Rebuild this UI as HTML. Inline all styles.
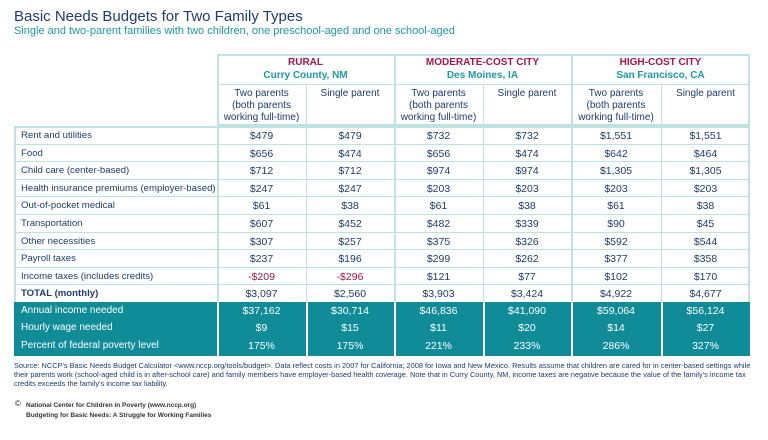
<!DOCTYPE html>
<html><head><style>
body{margin:0;width:768px;height:440px;background:#fff;position:relative;overflow:hidden;font-family:"Liberation Sans",sans-serif}
.a{position:absolute;white-space:nowrap}
.t{color:#1d3d6e;font-size:10px}
.c{text-align:center}
.hl{position:absolute;background:#bfe2e3;height:1px}
.vl{position:absolute;background:#bfe2e3;width:2px}
</style></head><body>
<div class="a" style="left:14px;top:8px;font-size:15px;color:#1d3d6e">Basic Needs Budgets for Two Family Types</div>
<div class="a" style="left:14px;top:25px;font-size:11px;color:#1e98a3">Single and two-parent families with two children, one preschool-aged and one school-aged</div>

<div style="position:absolute;left:217px;top:54px;width:533px;height:72px;border:2px solid #bfe2e3;box-sizing:border-box"></div>
<div class="hl" style="left:217px;top:84px;width:533px"></div>
<div class="vl" style="left:394px;top:54px;height:72px"></div>
<div class="vl" style="left:571px;top:54px;height:72px"></div>
<div class="vl" style="left:306px;top:84px;height:42px;width:1px"></div>
<div class="vl" style="left:483px;top:84px;height:42px;width:1px"></div>
<div class="vl" style="left:661px;top:84px;height:42px;width:1px"></div>

<div class="a c" style="left:217px;top:57px;width:177px;font-size:10px;font-weight:bold;color:#a3174a">RURAL</div>
<div class="a c" style="left:217px;top:70px;width:177px;font-size:10px;font-weight:bold;color:#1e98a3">Curry County, NM</div>
<div class="a c" style="left:394px;top:57px;width:177px;font-size:10px;font-weight:bold;color:#a3174a">MODERATE-COST CITY</div>
<div class="a c" style="left:394px;top:70px;width:177px;font-size:10px;font-weight:bold;color:#1e98a3">Des Moines, IA</div>
<div class="a c" style="left:571px;top:57px;width:179px;font-size:10px;font-weight:bold;color:#a3174a">HIGH-COST CITY</div>
<div class="a c" style="left:571px;top:70px;width:179px;font-size:10px;font-weight:bold;color:#1e98a3">San Francisco, CA</div>

<div class="a t c" style="left:217px;top:88px;width:89px;line-height:12px">Two parents<br>(both parents<br>working full-time)</div>
<div class="a t c" style="left:306px;top:88px;width:88px">Single parent</div>
<div class="a t c" style="left:394px;top:88px;width:89px;line-height:12px">Two parents<br>(both parents<br>working full-time)</div>
<div class="a t c" style="left:483px;top:88px;width:88px">Single parent</div>
<div class="a t c" style="left:571px;top:88px;width:90px;line-height:12px">Two parents<br>(both parents<br>working full-time)</div>
<div class="a t c" style="left:661px;top:88px;width:89px">Single parent</div>

<div style="position:absolute;left:14px;top:126px;width:736px;height:176px;border:2px solid #bfe2e3;border-bottom:none;box-sizing:border-box"></div>
<div class="vl" style="left:217px;top:126px;height:176px"></div>
<div class="vl" style="left:306px;top:126px;height:176px;width:1px"></div>
<div class="vl" style="left:394px;top:126px;height:176px"></div>
<div class="vl" style="left:483px;top:126px;height:176px;width:1px"></div>
<div class="vl" style="left:571px;top:126px;height:176px"></div>
<div class="vl" style="left:661px;top:126px;height:176px;width:1px"></div>

<div style="position:absolute;left:14px;top:302px;width:736px;height:54px;background:#0f8c98"></div>
<div style="position:absolute;left:217px;top:302px;width:2px;height:54px;background:#fff"></div>
<div style="position:absolute;left:306px;top:302px;width:2px;height:54px;background:#fff"></div>
<div style="position:absolute;left:394px;top:302px;width:2px;height:54px;background:#fff"></div>
<div style="position:absolute;left:483px;top:302px;width:2px;height:54px;background:#fff"></div>
<div style="position:absolute;left:571px;top:302px;width:2px;height:54px;background:#fff"></div>
<div style="position:absolute;left:661px;top:302px;width:2px;height:54px;background:#fff"></div>
<div id="rows"></div>

<div class="a" style="left:14px;top:361px;width:740px;white-space:normal;font-size:7.4px;line-height:9px;color:#1d3d6e">Source: NCCP's Basic Needs Budget Calculator &lt;www.nccp.org/tools/budget&gt;. Data reflect costs in 2007 for California; 2008 for Iowa and New Mexico. Results assume that children are cared for in center-based settings while their parents work (school-aged child is in after-school care) and family members have employer-based health coverage. Note that in Curry County, NM, income taxes are negative because the value of the family's income tax credits exceeds the family's income tax liability.</div>
<div class="a" style="left:15px;top:399px;font-size:8px;color:#222">©</div>
<div class="a" style="left:26px;top:402px;font-size:6.5px;font-weight:bold;color:#333">National Center for Children in Poverty (www.nccp.org)</div>
<div class="a" style="left:26px;top:412px;font-size:6.5px;font-weight:bold;color:#333">Budgeting for Basic Needs: A Struggle for Working Families</div>

<script>
var d=[["Rent and utilities","$479","$479","$732","$732","$1,551","$1,551"],
["Food","$656","$474","$656","$474","$642","$464"],
["Child care (center-based)","$712","$712","$974","$974","$1,305","$1,305"],
["Health insurance premiums (employer-based)","$247","$247","$203","$203","$203","$203"],
["Out-of-pocket medical","$61","$38","$61","$38","$61","$38"],
["Transportation","$607","$452","$482","$339","$90","$45"],
["Other necessities","$307","$257","$375","$326","$592","$544"],
["Payroll taxes","$237","$196","$299","$262","$377","$358"],
["Income taxes (includes credits)","-$209","-$296","$121","$77","$102","$170"],
["TOTAL (monthly)","$3,097","$2,560","$3,903","$3,424","$4,922","$4,677"]];
var t=[["Annual income needed","$37,162","$30,714","$46,836","$41,090","$59,064","$56,124"],
["Hourly wage needed","$9","$15","$11","$20","$14","$27"],
["Percent of federal poverty level","175%","175%","221%","233%","286%","327%"]];
var xs=[217,306,394,483,571,661,750],h="";
d.forEach(function(r,i){var y=130+i*17.6;
if(i>0)h+='<div class="hl" style="left:14px;top:'+(126+i*17.6)+'px;width:736px"></div>';
r.forEach(function(v,j){var col=(i==8&&j>0&&j<3)?'#a3174a':'#1d3d6e';var fw=i==9?'font-weight:bold;':'';
if(j==0)h+='<div class="a" style="left:21px;top:'+y+'px;font-size:9.6px;color:'+col+';'+fw+'">'+v+'</div>';
else h+='<div class="a c" style="left:'+xs[j-1]+'px;width:'+(xs[j]-xs[j-1])+'px;top:'+y+'px;font-size:10.5px;color:'+col+'">'+v+'</div>';});});
t.forEach(function(r,i){var y=305+i*17.3;
r.forEach(function(v,j){
if(j==0)h+='<div class="a" style="left:21px;top:'+y+'px;font-size:10px;color:#fff">'+v+'</div>';
else h+='<div class="a c" style="left:'+xs[j-1]+'px;width:'+(xs[j]-xs[j-1])+'px;top:'+y+'px;font-size:10.5px;color:#fff">'+v+'</div>';});});
document.getElementById('rows').innerHTML=h;
</script>
</body></html>
